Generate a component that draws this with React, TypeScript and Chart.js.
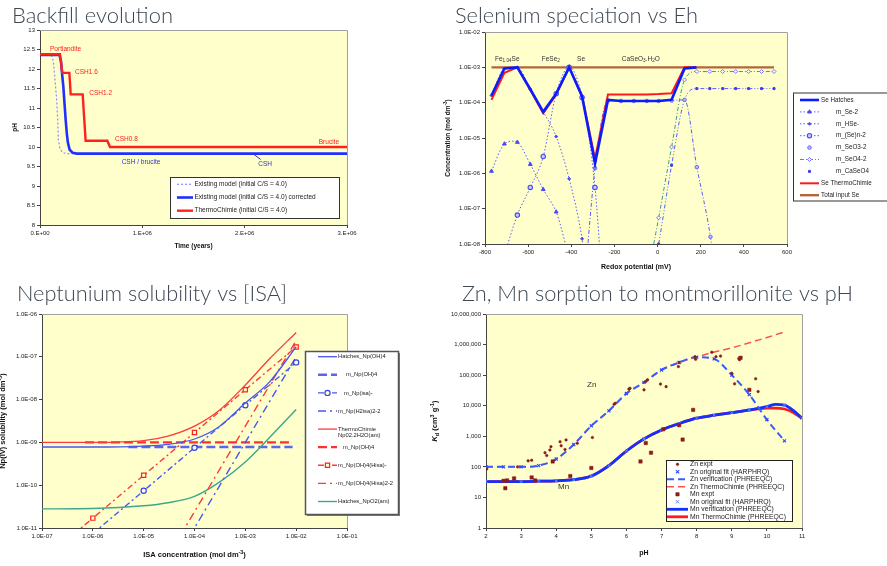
import React, { useEffect, useRef } from 'react';
import { Chart, registerables } from 'chart.js';

Chart.register(...registerables);

const SANS = '"Liberation Sans", Arial, Helvetica, sans-serif';
const TITLE_FAMILY = 'Lato, "Open Sans", "Noto Sans", sans-serif';
const PLOT_BG = '#ffffcc';
const TITLE_COLOR = '#3d4752';

/* ================= Backfill evolution ================= */
const bfTimeTicks = [0, 1e6, 2e6, 3e6];
const bfTimeLabels = ['0.E+00', '1.E+06', '2.E+06', '3.E+06'];
const bfPhTicks = [8, 8.5, 9, 9.5, 10, 10.5, 11, 11.5, 12, 12.5, 13];
const bfPhLabels = ['8', '8.5', '9', '9.5', '10', '10.5', '11', '11.5', '12', '12.5', '13'];

const bfExistingTime = [0, 1.1e5, 1.3e5, 1.47e5, 1.63e5, 1.73e5, 1.8e5, 1.95e5, 2.22e5, 2.6e5, 3e6];
const bfExistingPh = [12.38, 12.38, 12.2, 11.72, 11.2, 10.69, 10.18, 9.95, 9.86, 9.83, 9.83];
const bfCorrectedTime = [0, 1.9e5, 2.05e5, 2.15e5, 2.28e5, 2.4e5, 2.51e5, 2.62e5, 2.72e5, 2.9e5, 3.2e5, 3.6e5, 3e6];
const bfCorrectedPh = [12.36, 12.36, 12.2, 11.9, 11.55, 11.1, 10.69, 10.35, 10.12, 9.93, 9.85, 9.83, 9.83];
const bfThermoTime = [0, 1.95e5, 2.18e5, 2.87e5, 3.0e5, 4.17e5, 4.46e5, 6.58e5, 6.84e5, 3e6];
const bfThermoPh = [12.38, 12.38, 11.9, 11.9, 11.35, 11.35, 10.16, 10.16, 10.0, 10.0];

const bfRedNames = ['Portlandite', 'CSH1.6', 'CSH1.2', 'CSH0.8', 'Brucite'];
const bfRedTime = [0.98e5, 3.42e5, 4.82e5, 7.33e5, 2.922e6];
const bfRedPh = [12.52, 11.92, 11.38, 10.2, 10.12];
const bfBlueNames = ['CSH / brucite', 'CSH'];
const bfBlueTime = [7.98e5, 2.133e6];
const bfBluePh = [9.6, 9.56];

/* ================= Selenium speciation ================= */
const seEhTicks = [-800, -600, -400, -200, 0, 200, 400, 600];
const seEhLabels = ['-800', '-600', '-400', '-200', '0', '200', '400', '600'];
const seConcTicks = [1e-8, 1e-7, 1e-6, 1e-5, 1e-4, 1e-3, 1e-2];
const seConcLabels = ['1.0E-08', '1.0E-07', '1.0E-06', '1.0E-05', '1.0E-04', '1.0E-03', '1.0E-02'];

const seEh = [-770, -710, -650, -590, -530, -470, -410, -350, -290, -230, -170, -110, -50, 5, 65, 125, 180];
const seHatches = [1.6e-4, 9.3e-4, 1.0e-3, 2.4e-4, 5.5e-5, 1.8e-4, 1.0e-3, 1.5e-4, 1.9e-6, 1.2e-4, 1.12e-4, 1.12e-4, 1.12e-4, 1.12e-4, 1.2e-4, 9.3e-4, 1.0e-3];
const seThermo = [1.2e-4, 7.0e-4, 1.0e-3, 2.3e-4, 5.0e-5, 1.7e-4, 1.0e-3, 1.6e-4, 2.6e-6, 1.7e-4, 1.7e-4, 1.7e-4, 1.7e-4, 1.75e-4, 1.85e-4, 1.0e-3, 1.0e-3];
const seTotalEh = [-770, 540];
const seTotal = [1e-3, 1e-3];
const seS2Eh = [-770, -710, -650, -590, -530, -470, -410];
const seS2 = [1.15e-6, 6.8e-6, 7.6e-6, 1.8e-6, 3.5e-7, 8.1e-8, 4e-9];
const seHSeEh = [-770, -710, -650, -590, -530, -470, -410, -350, -320];
const seHSe = [1.6e-4, 9.3e-4, 1.0e-3, 2.4e-4, 5.5e-5, 1.1e-5, 7e-7, 1.4e-8, 5e-10];
const sePolyEh = [-710, -650, -590, -530, -470, -410, -350, -290, -260];
const sePoly = [5e-9, 6.6e-8, 4e-7, 3e-6, 1.8e-4, 1.0e-3, 1.4e-4, 4e-7, 1.6e-9];
const seO3Eh = [-350, -290, -230, -170, -110, -50, 5, 65, 125, 182, 245, 270];
const seO3 = [1e-10, 1.4e-6, 1.15e-4, 1.12e-4, 1.12e-4, 1.12e-4, 1.12e-4, 1.15e-4, 1.2e-4, 1.5e-6, 1.6e-8, 1e-9];
const seO4Eh = [-80, 5, 65, 125, 182, 242, 302, 362, 422, 482, 540];
const seO4 = [1e-10, 5.5e-8, 5.6e-6, 4.4e-4, 7.6e-4, 7.6e-4, 7.6e-4, 7.6e-4, 7.6e-4, 7.6e-4, 7.6e-4];
const seCaEh = [-55, 5, 65, 125, 182, 242, 302, 362, 422, 482, 540];
const seCa = [1e-10, 1e-8, 1.7e-6, 1.2e-4, 2.5e-4, 2.5e-4, 2.5e-4, 2.5e-4, 2.5e-4, 2.5e-4, 2.5e-4];

const sePhaseEh = [-754, -537, -373, -166];
const sePhaseConc = [1.7e-3, 1.7e-3, 1.7e-3, 1.7e-3];

/* ================= Neptunium solubility ================= */
const npIsaTicks = [1e-7, 1e-6, 1e-5, 1e-4, 1e-3, 1e-2, 1e-1];
const npIsaLabels = ['1.0E-07', '1.0E-06', '1.0E-05', '1.0E-04', '1.0E-03', '1.0E-02', '1.0E-01'];
const npSolTicks = [1e-11, 1e-10, 1e-9, 1e-8, 1e-7, 1e-6];
const npSolLabels = ['1.0E-11', '1.0E-10', '1.0E-09', '1.0E-08', '1.0E-07', '1.0E-06'];

const isaConc = [1e-7, 1e-6, 1e-5, 3e-5, 1e-4, 3e-4, 1e-3, 3e-3, 1e-2];
const hatchesNpOH4 = [7.8e-10, 7.8e-10, 8.2e-10, 9e-10, 1.2e-9, 2.3e-9, 8.3e-9, 2.6e-8, 1.7e-7];
const thermoNpO2 = [1e-9, 1e-9, 1.1e-9, 1.4e-9, 2.4e-9, 5.5e-9, 2.2e-8, 9e-8, 3.7e-7];
const hatchesNpO2am = [2.8e-11, 2.85e-11, 3.3e-11, 3.9e-11, 5.5e-11, 1.15e-10, 3.5e-10, 1.3e-9, 5.9e-9];
const npIsaConc = [1e-6, 1e-5, 1e-4, 1e-3, 1e-2];
const npIsa = [7.4e-12, 7.4e-11, 7.5e-10, 7.4e-9, 7.4e-8];
const npHisaConc = [1e-7, 1e-6, 1e-5, 1e-4, 1e-3, 1e-2];
const npOH4Hisa = [1.7e-12, 1.7e-11, 1.7e-10, 1.7e-9, 1.7e-8, 1.7e-7];
const npDiConc = [1e-5, 1e-4, 1e-3, 1e-2];
const npH2isa2 = [1e-13, 1e-11, 1e-9, 1e-7];
const npOH4Hisa2 = [2.4e-13, 2.4e-11, 2.4e-9, 2.4e-7];
const npOH4BlueConc = [5e-6, 8.5e-3];
const npOH4Blue = [7.8e-10, 7.8e-10];
const npOH4RedConc = [7e-7, 8.5e-3];
const npOH4Red = [1e-9, 1e-9];

/* ================= Zn, Mn sorption ================= */
const kdPhTicks = [2, 3, 4, 5, 6, 7, 8, 9, 10, 11];
const kdPhLabels = ['2', '3', '4', '5', '6', '7', '8', '9', '10', '11'];
const kdTicks = [1, 10, 100, 1e3, 1e4, 1e5, 1e6, 1e7];
const kdLabels = ['1', '10', '100', '1,000', '10,000', '100,000', '1,000,000', '10,000,000'];

const znPh = [2, 2.5, 3, 3.5, 4, 4.5, 5, 5.5, 6, 6.5, 7, 7.5, 8, 8.5, 9, 9.5, 10, 10.5];
const znVerif = [100, 100, 100, 110, 180, 540, 2200, 6800, 25000, 58000, 148000, 260000, 390000, 340000, 100000, 23000, 3500, 710];
const znThermo = [100, 100, 100, 110, 180, 540, 2200, 6800, 25000, 58000, 148000, 260000, 390000, 570000, 780000, 1150000, 1700000, 2600000];
const znFit = [100, 100, 100, 110, 180, 540, 2200, 6800, 25000, 58000, 148000, 260000, 390000, 340000, 100000, 23000, 3500, 710];
const mnPh = [2, 2.5, 3, 3.5, 4, 4.5, 5, 5.5, 6, 6.5, 7, 7.5, 8, 8.5, 9, 9.5, 10, 10.25, 10.5, 10.75, 11];
const mnVerif = [33, 33, 33, 34, 35, 38, 50, 110, 330, 820, 1600, 2600, 3900, 4900, 5900, 7300, 9300, 11000, 10500, 7000, 3900];
const mnThermo = [33, 33, 33, 34, 35, 38, 50, 110, 330, 820, 1600, 2600, 3900, 4900, 5900, 7200, 8300, 8400, 7800, 6000, 3900];
const mnFitPh = [2, 2.5, 3, 3.5, 4, 4.5, 5, 5.5, 6, 6.5, 7, 7.5, 8, 8.5, 9, 9.5, 10, 10.5, 11];
const mnFit = [33, 33, 33, 34, 35, 38, 50, 110, 330, 820, 1600, 2600, 3900, 4900, 5900, 7300, 9300, 10500, 3900];
const znExptPh = [2.02, 2.9, 3.2, 3.3, 3.68, 3.73, 3.82, 3.85, 4.11, 4.14, 4.25, 4.28, 4.6, 5.03, 5.65, 5.68, 6.07, 6.1, 6.5, 6.55, 6.6, 6.97, 7.13, 7.48, 7.5, 7.95, 7.97, 8.43, 8.55, 8.68, 9.0, 9.08, 9.2, 9.22, 9.68, 9.75];
const znExptKd = [85, 100, 157, 165, 290, 234, 355, 457, 660, 490, 370, 760, 590, 910, 11200, 12000, 35000, 37000, 33000, 62000, 70000, 51000, 42000, 190000, 260000, 400000, 330000, 560000, 400000, 420000, 115000, 52000, 350000, 320000, 76000, 29000];
const mnExptPh = [2.5, 2.55, 2.6, 2.8, 3.3, 3.4, 3.9, 4.4, 5.0, 6.4, 6.55, 6.7, 7.05, 7.5, 7.6, 7.9, 9.25, 9.5];
const mnExptKd = [35, 20, 36, 42, 45, 36, 150, 50, 92, 150, 600, 290, 1700, 2300, 780, 7300, 370000, 33000];

const kdNames = ['Zn', 'Mn'];
const kdNamePh = [4.88, 4.05];
const kdNameKd = [48000, 22];

/* ================= helpers ================= */
type Part = { t: string; sub?: boolean; sup?: boolean; it?: boolean };

const pts = (xs: number[], ys: number[]) => xs.map((x, i) => ({ x, y: ys[i] }));

function drawRich(ctx: any, parts: Part[], x: number, y: number, size: number, weight: string, color: string, align: string, rot = 0) {
  ctx.save();
  ctx.translate(x, y);
  if (rot) ctx.rotate(rot);
  ctx.fillStyle = color;
  ctx.textBaseline = 'middle';
  ctx.textAlign = 'left';
  const fontFor = (p: Part) => `${p.it ? 'italic ' : ''}${weight} ${p.sub || p.sup ? size * 0.72 : size}px ${SANS}`;
  const widths = parts.map((p) => {
    ctx.font = fontFor(p);
    return ctx.measureText(p.t).width;
  });
  const total = widths.reduce((a, b) => a + b, 0);
  let cx = align === 'left' ? 0 : align === 'right' ? -total : -total / 2;
  parts.forEach((p, i) => {
    ctx.font = fontFor(p);
    const dy = p.sub ? size * 0.3 : p.sup ? -size * 0.35 : 0;
    ctx.fillText(p.t, cx, dy);
    cx += widths[i];
  });
  ctx.restore();
}

function drawMarker(ctx: any, m: any, x: number, y: number) {
  const r = m.r;
  ctx.save();
  ctx.setLineDash([]);
  ctx.lineWidth = m.lw ?? 1;
  ctx.strokeStyle = m.stroke;
  ctx.fillStyle = m.fill;
  ctx.beginPath();
  if (m.style === 'crossRot') {
    const d = r * 0.75;
    ctx.moveTo(x - d, y - d);
    ctx.lineTo(x + d, y + d);
    ctx.moveTo(x + d, y - d);
    ctx.lineTo(x - d, y + d);
    ctx.stroke();
    ctx.restore();
    return;
  }
  if (m.style === 'rect') {
    const s = r * Math.SQRT1_2;
    ctx.rect(x - s, y - s, 2 * s, 2 * s);
  } else if (m.style === 'rectRot') {
    ctx.moveTo(x, y - r);
    ctx.lineTo(x + r, y);
    ctx.lineTo(x, y + r);
    ctx.lineTo(x - r, y);
    ctx.closePath();
  } else if (m.style === 'triangle') {
    ctx.moveTo(x, y - r);
    ctx.lineTo(x + r * 0.87, y + r * 0.5);
    ctx.lineTo(x - r * 0.87, y + r * 0.5);
    ctx.closePath();
  } else {
    ctx.arc(x, y, r, 0, Math.PI * 2);
  }
  ctx.fill();
  ctx.stroke();
  ctx.restore();
}

function mk(style: string, r: number, stroke: string, fill: string, lw = 1) {
  const m = { style, r, stroke, fill, lw };
  return {
    marker: m,
    pointStyle: style,
    pointRadius: r,
    pointBorderColor: stroke,
    pointBackgroundColor: fill,
    pointBorderWidth: lw,
  };
}

function makeDecor(d: any) {
  return {
    id: 'decor',
    beforeDraw(chart: any) {
      const { ctx, chartArea: a } = chart;
      ctx.save();
      ctx.fillStyle = PLOT_BG;
      ctx.fillRect(a.left, a.top, a.right - a.left, a.bottom - a.top);
      ctx.restore();
    },
    beforeDatasetsDraw(chart: any) {
      const { ctx, chartArea: a } = chart;
      ctx.save();
      ctx.strokeStyle = '#a0a0a0';
      ctx.lineWidth = 1;
      ctx.beginPath();
      ctx.moveTo(a.left, Math.round(a.top) + 0.5);
      ctx.lineTo(Math.round(a.right) + 0.5, Math.round(a.top) + 0.5);
      ctx.lineTo(Math.round(a.right) + 0.5, a.bottom);
      ctx.stroke();
      ctx.restore();
    },
    afterDatasetsDraw(chart: any) {
      const { ctx } = chart;
      const sx = chart.scales.x;
      const sy = chart.scales.y;
      (d.pointers || []).forEach((p: any) => {
        ctx.save();
        ctx.strokeStyle = p.color;
        ctx.lineWidth = 1;
        ctx.beginPath();
        ctx.moveTo(sx.getPixelForValue(p.x1), sy.getPixelForValue(p.y1));
        ctx.lineTo(sx.getPixelForValue(p.x2), sy.getPixelForValue(p.y2));
        ctx.stroke();
        ctx.restore();
      });
      (d.labels || []).forEach((l: any) => {
        drawRich(ctx, l.parts, sx.getPixelForValue(l.x), sy.getPixelForValue(l.y), l.size, l.weight || 'normal', l.color, l.align || 'left');
      });
    },
    afterDraw(chart: any) {
      const { ctx, chartArea: a } = chart;
      const t = d.title;
      ctx.save();
      ctx.font = `300 ${t.size}px ${TITLE_FAMILY}`;
      ctx.fillStyle = TITLE_COLOR;
      ctx.textBaseline = 'alphabetic';
      ctx.textAlign = 'left';
      const w0 = ctx.measureText(t.text).width;
      ctx.translate(t.x - d.ox, t.y - d.oy);
      ctx.scale(t.width / w0, 1);
      ctx.fillText(t.text, 0, 0);
      ctx.restore();
      const xt = d.xTitle;
      drawRich(ctx, xt.parts, (a.left + a.right) / 2, a.bottom + xt.dy, xt.size, xt.weight, '#111', 'center');
      const yt = d.yTitle;
      drawRich(ctx, yt.parts, a.left - yt.dx, (a.top + a.bottom) / 2, yt.size, yt.weight, '#111', 'center', -Math.PI / 2);
      const L = d.legend;
      const lx = L.x - d.ox;
      const ly = L.y - d.oy;
      ctx.save();
      if (L.shadow) {
        ctx.fillStyle = 'rgba(90,90,90,0.8)';
        ctx.fillRect(lx + L.shadow, ly + L.shadow, L.w, L.h);
      }
      ctx.fillStyle = '#ffffff';
      ctx.fillRect(lx, ly, L.w, L.h);
      ctx.strokeStyle = L.border;
      ctx.lineWidth = L.borderWidth;
      ctx.strokeRect(lx + 0.5, ly + 0.5, L.w, L.h);
      ctx.restore();
      let row = 0;
      chart.data.datasets.forEach((ds: any) => {
        if (ds.noLegend) return;
        const y = L.y0 - d.oy + row * L.step;
        const s1 = L.s1 - d.ox;
        const s2 = L.s2 - d.ox;
        if (!ds.legendNoLine && ds.showLine !== false) {
          ctx.save();
          ctx.strokeStyle = ds.borderColor;
          ctx.lineWidth = ds.borderWidth;
          ctx.setLineDash(ds.borderDash || []);
          ctx.beginPath();
          ctx.moveTo(s1, y);
          ctx.lineTo(s2, y);
          ctx.stroke();
          ctx.restore();
        }
        if (ds.marker) drawMarker(ctx, ds.marker, (s1 + s2) / 2, y);
        const lines: string[] = ds.legendLines || [ds.label];
        lines.forEach((txt, k) => {
          drawRich(ctx, [{ t: txt }], L.tx - d.ox + (ds.legendIndent || 0), y + k * L.size * 1.05, L.size, 'normal', '#222', 'left');
        });
        row += 1;
      });
    },
  };
}

function scaleOpts(type: string, min: number, max: number, ticks: number[], labels: string[], size: number, horizontal: boolean) {
  return {
    type,
    min,
    max,
    afterBuildTicks: (s: any) => {
      s.ticks = ticks.map((v) => ({ value: v }));
    },
    afterFit: (s: any) => {
      if (horizontal) s.height = size;
      else s.width = size;
      s.paddingLeft = 0;
      s.paddingRight = 0;
      s.paddingTop = 0;
      s.paddingBottom = 0;
    },
    ticks: {
      autoSkip: false,
      maxRotation: 0,
      minRotation: 0,
      padding: 2,
      color: '#222',
      font: { family: SANS, size: 6 },
      callback: (_v: any, i: number) => labels[i],
    },
    grid: { drawOnChartArea: false, drawTicks: true, tickLength: 3, color: '#444', lineWidth: 1 },
    border: { display: true, color: '#444', width: 1 },
  };
}

function baseOptions(pad: any, xs: any, ys: any) {
  return {
    responsive: false,
    animation: false,
    devicePixelRatio: 1,
    events: [],
    layout: { padding: pad },
    plugins: { legend: { display: false }, tooltip: { enabled: false }, title: { display: false } },
    elements: { point: { radius: 0 }, line: { tension: 0 } },
    scales: { x: xs, y: ys },
  };
}

/* ================= chart builders ================= */
function buildBackfill() {
  const ox = 0;
  const oy = 0;
  const labels = [
    ...bfRedNames.map((n, i) => ({ parts: [{ t: n }], x: bfRedTime[i], y: bfRedPh[i], color: '#ff1a1a', size: 6.5, align: i === 4 ? 'right' : 'left' })),
    ...bfBlueNames.map((n, i) => ({ parts: [{ t: n }], x: bfBlueTime[i], y: bfBluePh[i], color: '#3030d0', size: 6.5, align: 'left' })),
  ];
  return {
    type: 'line',
    data: {
      datasets: [
        { label: 'Existing model (initial C/S = 4.0)', data: pts(bfExistingTime, bfExistingPh), borderColor: '#8a8cff', borderWidth: 1.2, borderDash: [2, 2], order: 2 },
        { label: 'Existing model (initial C/S = 4.0) corrected', data: pts(bfCorrectedTime, bfCorrectedPh), borderColor: '#2030ff', borderWidth: 2.6, order: 1 },
        { label: 'ThermoChimie (initial C/S = 4.0)', data: pts(bfThermoTime, bfThermoPh), borderColor: '#ff2020', borderWidth: 2.4, order: 0 },
      ],
    },
    options: baseOptions(
      { left: 0, top: 30, right: 93, bottom: 25 },
      scaleOpts('linear', 0, 3e6, bfTimeTicks, bfTimeLabels, 30, true),
      scaleOpts('linear', 8, 13, bfPhTicks, bfPhLabels, 40, false),
    ),
    plugins: [
      makeDecor({
        ox, oy,
        title: { text: 'Backfill evolution', x: 12, y: 23, width: 161, size: 21 },
        xTitle: { parts: [{ t: 'Time (years)' }], dy: 21.7, size: 6.5, weight: 'bold' },
        yTitle: { parts: [{ t: 'pH' }], dx: 25, size: 6.5, weight: 'bold' },
        labels,
        pointers: [{ x1: 2.085e6, y1: 9.82, x2: 2.157e6, y2: 9.68, color: '#3030d0' }],
        legend: { x: 170, y: 177, w: 169, h: 41, y0: 184.3, step: 13.2, s1: 177, s2: 193, tx: 194.5, size: 6.5, border: '#333', borderWidth: 1, shadow: 0 },
      }),
    ],
  };
}

function buildSelenium() {
  const ox = 440;
  const oy = 0;
  const light = '#5c5cff';
  const phaseParts: Part[][] = [
    [{ t: 'Fe' }, { t: '1.04', sub: true }, { t: 'Se' }],
    [{ t: 'FeSe' }, { t: '2', sub: true }],
    [{ t: 'Se' }],
    [{ t: 'CaSeO' }, { t: '3', sub: true }, { t: '.H' }, { t: '2', sub: true }, { t: 'O' }],
  ];
  return {
    type: 'line',
    data: {
      datasets: [
        { label: 'Se Hatches', data: pts(seEh, seHatches), borderColor: '#0a1cff', borderWidth: 2.6, order: 0 },
        { label: 'm_Se-2', data: pts(seS2Eh, seS2), borderColor: light, borderWidth: 1, borderDash: [1.5, 2], tension: 0.3, ...mk('triangle', 2.2, '#4a4af5', '#4a4af5'), legendIndent: 15, order: 3 },
        { label: 'm_HSe-', data: pts(seHSeEh, seHSe), borderColor: light, borderWidth: 1, borderDash: [1.5, 2], cubicInterpolationMode: 'monotone', ...mk('rectRot', 1.5, '#4a4af5', '#4a4af5'), legendIndent: 15, order: 3 },
        { label: 'm_(Se)n-2', data: pts(sePolyEh, sePoly), borderColor: light, borderWidth: 1, borderDash: [1.5, 2], cubicInterpolationMode: 'monotone', ...mk('circle', 2.2, '#4a4af5', '#c8c8ff', 1.1), legendIndent: 15, order: 3 },
        { label: 'm_SeO3-2', data: pts(seO3Eh, seO3), borderColor: light, borderWidth: 1, borderDash: [4, 2, 1, 2], cubicInterpolationMode: 'monotone', ...mk('circle', 1.8, '#6a6af5', '#b8b8ff'), legendNoLine: true, legendIndent: 15, order: 3 },
        { label: 'm_SeO4-2', data: pts(seO4Eh, seO4), borderColor: '#3a9c86', borderWidth: 1, borderDash: [4, 2, 1, 2], cubicInterpolationMode: 'monotone', ...mk('rectRot', 2, '#7a7aff', '#ffffcc'), legendIndent: 15, order: 3 },
        { label: 'm_CaSeO4', data: pts(seCaEh, seCa), borderColor: light, borderWidth: 1, borderDash: [4, 2, 1, 2, 1, 2], cubicInterpolationMode: 'monotone', ...mk('rect', 1.4, '#3a3aff', '#3a3aff'), legendNoLine: true, legendIndent: 15, order: 3 },
        { label: 'Se ThermoChimie', data: pts(seEh, seThermo), borderColor: '#ff1a1a', borderWidth: 2, order: 1 },
        { label: 'Total input Se', data: pts(seTotalEh, seTotal), borderColor: '#b4663a', borderWidth: 2.4, order: 4 },
      ],
    },
    options: baseOptions(
      { left: 0, top: 32, right: 100, bottom: 11 },
      scaleOpts('linear', -800, 600, seEhTicks, seEhLabels, 25, true),
      scaleOpts('logarithmic', 1e-8, 1e-2, seConcTicks, seConcLabels, 45, false),
    ),
    plugins: [
      makeDecor({
        ox, oy,
        title: { text: 'Selenium speciation vs Eh', x: 455, y: 23, width: 243, size: 21 },
        xTitle: { parts: [{ t: 'Redox potential (mV)' }], dy: 22.7, size: 7, weight: 'bold' },
        yTitle: { parts: [{ t: 'Concentration (mol dm' }, { t: '-3', sup: true }, { t: ')' }], dx: 37, size: 6.5, weight: 'bold' },
        labels: phaseParts.map((p, i) => ({ parts: p, x: sePhaseEh[i], y: sePhaseConc[i], color: '#333', size: 6.5, align: 'left' })),
        legend: { x: 793, y: 92.5, w: 110, h: 108, y0: 100, step: 11.9, s1: 800, s2: 819, tx: 821, size: 6.3, border: '#333', borderWidth: 1, shadow: 0 },
      }),
    ],
  };
}

function buildNeptunium() {
  const ox = 0;
  const oy = 280;
  const blue = '#4a55ee';
  const red = '#ff3a3a';
  return {
    type: 'line',
    data: {
      datasets: [
        { label: 'Hatches_Np(OH)4', data: pts(isaConc, hatchesNpOH4), borderColor: blue, borderWidth: 1.3, cubicInterpolationMode: 'monotone', order: 1 },
        { label: 'm_Np(OH)4', data: pts(npOH4BlueConc, npOH4Blue), borderColor: '#5a66ee', borderWidth: 2.4, borderDash: [9, 4], legendIndent: 8, order: 2 },
        { label: 'm_Np(isa)-', data: pts(npIsaConc, npIsa), borderColor: blue, borderWidth: 1.4, borderDash: [6, 3, 2, 3], ...mk('circle', 2.6, '#3344ee', '#ffffcc', 1.2), legendIndent: 6, order: 1 },
        { label: 'm_Np(H2isa)2-2', data: pts(npDiConc, npH2isa2), borderColor: blue, borderWidth: 1.4, borderDash: [8, 4, 2, 4], order: 1 },
        { label: 'ThermoChimie Np02.2H2O(am)', legendLines: ['ThermoChimie', 'Np02.2H2O(am)'], data: pts(isaConc, thermoNpO2), borderColor: red, borderWidth: 1.3, cubicInterpolationMode: 'monotone', order: 1 },
        { label: 'm_Np(OH)4', data: pts(npOH4RedConc, npOH4Red), borderColor: '#ff3030', borderWidth: 2.2, borderDash: [9, 4], legendIndent: 5, order: 2 },
        { label: 'm_Np(OH)4(Hisa)-', data: pts(npHisaConc, npOH4Hisa), borderColor: red, borderWidth: 1.4, borderDash: [6, 3, 2, 3], ...mk('rect', 3, '#ff2020', '#ffffcc', 1.2), order: 1 },
        { label: 'm_Np(OH)4(Hisa)2-2', data: pts(npDiConc, npOH4Hisa2), borderColor: red, borderWidth: 1.4, borderDash: [8, 4, 2, 4], order: 1 },
        { label: 'Hatches_NpO2(am)', data: pts(isaConc, hatchesNpO2am), borderColor: '#3ea68a', borderWidth: 1.4, cubicInterpolationMode: 'monotone', order: 1 },
      ],
    },
    options: baseOptions(
      { left: 0, top: 34, right: 93, bottom: 6 },
      scaleOpts('logarithmic', 1e-7, 1e-1, npIsaTicks, npIsaLabels, 32, true),
      scaleOpts('logarithmic', 1e-11, 1e-6, npSolTicks, npSolLabels, 42, false),
    ),
    plugins: [
      makeDecor({
        ox, oy,
        title: { text: 'Neptunium solubility vs [ISA]', x: 17, y: 301, width: 270, size: 21 },
        xTitle: { parts: [{ t: 'ISA concentration (mol dm' }, { t: '-3', sup: true }, { t: ')' }], dy: 27.3, size: 7.5, weight: 'bold' },
        yTitle: { parts: [{ t: 'Np(IV) solubility (mol dm' }, { t: '-3', sup: true }, { t: ')' }], dx: 39, size: 7.5, weight: 'bold' },
        legend: { x: 305, y: 351, w: 93, h: 163, y0: 356.7, step: 18.1, s1: 318, s2: 337, tx: 338, size: 5.8, border: '#555', borderWidth: 1.5, shadow: 2 },
      }),
    ],
  };
}

function buildSorption() {
  const ox = 420;
  const oy = 280;
  const dark = '#8b1c1c';
  return {
    type: 'line',
    data: {
      datasets: [
        { label: 'Zn expt', data: pts(znExptPh, znExptKd), showLine: false, ...mk('circle', 1.3, dark, dark, 0.5), order: 0 },
        { label: 'Zn original fit (HARPHRQ)', data: pts(znPh, znFit), showLine: false, ...mk('crossRot', 2.2, '#2a48ff', '#2a48ff', 1.1), order: 1 },
        { label: 'Zn verification (PHREEQC)', data: pts(znPh, znVerif), borderColor: '#3a5cff', borderWidth: 2, borderDash: [7, 4], cubicInterpolationMode: 'monotone', order: 2 },
        { label: 'Zn ThermoChimie (PHREEQC)', data: pts(znPh, znThermo), borderColor: '#ff5050', borderWidth: 1.5, borderDash: [7, 4], cubicInterpolationMode: 'monotone', order: 3 },
        { label: 'Mn expt', data: pts(mnExptPh, mnExptKd), showLine: false, ...mk('rect', 2.4, dark, dark, 0.5), order: 0 },
        { label: 'Mn original fit (HARPHRQ)', data: pts(mnFitPh, mnFit), showLine: false, ...mk('crossRot', 2.2, '#5a8cff', '#5a8cff', 1), order: 1 },
        { label: 'Mn verification (PHREEQC)', data: pts(mnPh, mnVerif), borderColor: '#1430ff', borderWidth: 2.8, cubicInterpolationMode: 'monotone', order: 4 },
        { label: 'Mn ThermoChimie (PHREEQC)', data: pts(mnPh, mnThermo), borderColor: '#ff1a1a', borderWidth: 2.8, cubicInterpolationMode: 'monotone', order: 5 },
      ],
    },
    options: baseOptions(
      { left: 0, top: 34, right: 85, bottom: 6 },
      scaleOpts('linear', 2, 11, kdPhTicks, kdPhLabels, 32, true),
      scaleOpts('logarithmic', 1, 1e7, kdTicks, kdLabels, 66, false),
    ),
    plugins: [
      makeDecor({
        ox, oy,
        title: { text: 'Zn, Mn sorption to montmorillonite vs pH', x: 462, y: 301, width: 391, size: 21 },
        xTitle: { parts: [{ t: 'pH' }], dy: 25.3, size: 7, weight: 'bold' },
        yTitle: { parts: [{ t: 'K', it: true }, { t: 'd', sub: true }, { t: ' (cm' }, { t: '3', sup: true }, { t: ' g' }, { t: '-1', sup: true }, { t: ')' }], dx: 51, size: 7.5, weight: 'bold' },
        labels: kdNames.map((n, i) => ({ parts: [{ t: n }], x: kdNamePh[i], y: kdNameKd[i], color: '#333', size: 8, align: 'left' })),
        legend: { x: 666, y: 460, w: 126, h: 61, y0: 464.3, step: 7.5, s1: 667, s2: 688, tx: 690, size: 6.8, border: '#222', borderWidth: 1, shadow: 0 },
      }),
    ],
  };
}

function Panel({ left, top, width, height, build }: any) {
  const ref = useRef<HTMLCanvasElement>(null);
  useEffect(() => {
    const chart = new Chart(ref.current as HTMLCanvasElement, build() as any);
    return () => chart.destroy();
  }, []);
  return <canvas ref={ref} width={width} height={height} style={{ position: 'absolute', left, top, width, height }} />;
}

export default function App() {
  return (
    <div style={{ position: 'fixed', left: 0, top: 0, width: 887, height: 566, background: '#ffffff', overflow: 'hidden' }}>
      <Panel left={0} top={0} width={440} height={280} build={buildBackfill} />
      <Panel left={440} top={0} width={447} height={280} build={buildSelenium} />
      <Panel left={0} top={280} width={440} height={286} build={buildNeptunium} />
      <Panel left={420} top={280} width={467} height={286} build={buildSorption} />
    </div>
  );
}
